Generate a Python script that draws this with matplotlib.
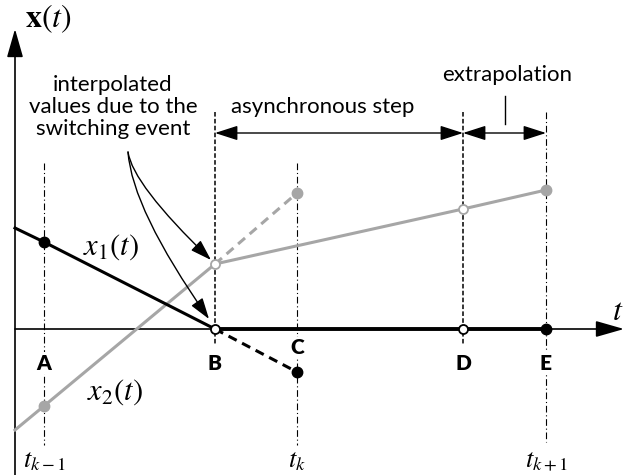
import matplotlib.pyplot as plt

plt.rcParams['mathtext.fontset'] = 'stix'

# time instants (A, B, C, D, E) in diagram units
t_pts = [0.29, 2.00, 2.82, 4.48, 5.31]
labels = ['A', 'B', 'C', 'D', 'E']

# x1 trajectory
x1_start = [0.0, 1.01]
x1_vals = [0.87, 0.0, -0.43, 0.0, 0.0]
# x2 trajectory
x2_start = [0.0, -1.01]
x2_vals = [-0.77, 0.65, 1.36, 1.20, 1.39]

gray = '#a6a6a6'
sans = 'Lato'

fig = plt.figure(figsize=(6.27, 4.75), dpi=100)
ax = fig.add_axes([0, 0, 1, 1])
ax.set_xlim(-0.15, 6.12)
ax.set_ylim(-1.46, 3.29)
ax.axis('off')

tA, tB, tC, tD, tE = t_pts

# vertical guide lines
dashdot = (0, (6, 2.5, 1, 2.5))
ax.plot([tA, tA], [1.66, -1.16], color='k', lw=0.8, ls=dashdot, zorder=1)
ax.plot([tC, tC], [1.66, -1.16], color='k', lw=0.8, ls=dashdot, zorder=1)
ax.plot([tE, tE], [2.17, -1.13], color='k', lw=0.8, ls=dashdot, zorder=1)
ax.plot([tB, tB], [2.17, -0.16], color='k', lw=1.1, ls=(0, (3, 1.5)), zorder=1)
ax.plot([tD, tD], [2.17, -0.16], color='k', lw=1.1, ls=(0, (3, 1.5)), zorder=1)

# axes with arrows
ax.annotate('', xy=(0, 3.0), xytext=(0, -1.46),
            arrowprops=dict(arrowstyle='-|>,head_length=1.75,head_width=0.5',
                            mutation_scale=10, lw=1.2, color='k',
                            shrinkA=0, shrinkB=0), zorder=2)
ax.annotate('', xy=(6.09, 0), xytext=(0, 0),
            arrowprops=dict(arrowstyle='-|>,head_length=1.75,head_width=0.5',
                            mutation_scale=10, lw=1.2, color='k',
                            shrinkA=0, shrinkB=0), zorder=2)

# x2 (gray)
ax.plot([x2_start[0], tA, tB], [x2_start[1], x2_vals[0], x2_vals[1]], color=gray, lw=2.2, zorder=3)
ax.plot([tB, tC], [x2_vals[1], x2_vals[2]], color=gray, lw=2.2, ls=(0, (3, 2)), zorder=3)
ax.plot([tB, tD, tE], [x2_vals[1], x2_vals[3], x2_vals[4]], color=gray, lw=2.2, zorder=3)

# x1 (black)
ax.plot([x1_start[0], tA, tB], [x1_start[1], x1_vals[0], x1_vals[1]], color='k', lw=2.2, zorder=4)
ax.plot([tB, tC], [x1_vals[1], x1_vals[2]], color='k', lw=2.2, ls=(0, (3, 2)), zorder=4)
ax.plot([tB, tD, tE], [x1_vals[1], x1_vals[3], x1_vals[4]], color='k', lw=2.8, zorder=4)

# markers
for i in [0, 2, 4]:
    ax.plot(t_pts[i], x2_vals[i], 'o', color=gray, ms=7.5, zorder=5)
    ax.plot(t_pts[i], x1_vals[i], 'o', color='k', ms=7.5, zorder=6)
for i in [1, 3]:
    ax.plot(t_pts[i], x2_vals[i], 'o', mfc='white', mec=gray, mew=1.3, ms=6.5, zorder=5)
    ax.plot(t_pts[i], x1_vals[i], 'o', mfc='white', mec='k', mew=1.3, ms=6.5, zorder=6)

# point labels
lab_y = [-0.34, -0.34, -0.19, -0.34, -0.34]
for t, lab, y in zip(t_pts, labels, lab_y):
    ax.text(t, y, lab, ha='center', va='center', fontsize=15, fontweight='heavy',
            family=sans, zorder=7,
            bbox=dict(fc='white', ec='none', pad=1.0))

# time labels
for t, lab in zip([tA, tC, tE], [r'$t_{k-1}$', r'$t_{k}$', r'$t_{k+1}$']):
    ax.text(t, -1.445, lab, ha='center', va='bottom', fontsize=19)

# axis labels
ax.text(0.33, 3.10, r'$\mathbf{x}(t)$', ha='center', va='center', fontsize=23)
ax.text(6.03, 0.17, r'$t$', ha='center', va='center', fontsize=23)

# curve labels
ax.text(0.96, 0.82, r'$x_1(t)$', ha='center', va='center', fontsize=22)
ax.text(1.00, -0.63, r'$x_2(t)$', ha='center', va='center', fontsize=22)

# annotation text
ax.text(0.98, 2.22, 'interpolated\nvalues due to the\nswitching event', ha='center',
        va='center', fontsize=16, family=sans, linespacing=1.1)
ax.text(3.08, 2.22, 'asynchronous step', ha='center', va='center', fontsize=16, family=sans)
ax.text(4.92, 2.54, 'extrapolation', ha='center', va='center', fontsize=16, family=sans)

# dimension arrows
dim_style = dict(arrowstyle='<|-|>,head_length=1.4,head_width=0.45', mutation_scale=10,
                 lw=1.0, color='k', shrinkA=0, shrinkB=0)
ax.annotate('', xy=(tD, 1.96), xytext=(tB, 1.96), arrowprops=dim_style)
ax.annotate('', xy=(tE, 1.96), xytext=(tD, 1.96), arrowprops=dim_style)
ax.plot([4.90, 4.90], [2.33, 2.05], color='k', lw=1.0)

# curved pointers
curve_style = dict(arrowstyle='-|>,head_length=1.3,head_width=0.42', mutation_scale=10,
                   lw=1.0, color='k', shrinkA=0, shrinkB=0)
ax.annotate('', xy=(1.94, 0.10), xytext=(1.13, 1.77),
            arrowprops=dict(connectionstyle='angle3,angleA=-86,angleB=-55', **curve_style),
            zorder=8)
ax.annotate('', xy=(1.96, 0.69), xytext=(1.13, 1.77),
            arrowprops=dict(connectionstyle='angle3,angleA=-82,angleB=-44', **curve_style),
            zorder=8)

fig.savefig('out.png', dpi=100)
